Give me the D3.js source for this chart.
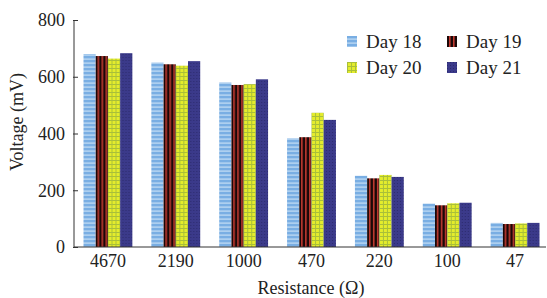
<!DOCTYPE html>
<html>
<head>
<meta charset="utf-8">
<script src="https://cdn.jsdelivr.net/npm/d3@7"></script>
<style>
  body { margin: 0; background: #fff; }
  svg text { font-family: "Liberation Serif", "DejaVu Serif", serif !important; fill: #222; }
</style>
</head>
<body>
<svg id="chart"></svg>
<script>
const resistances = ["4670", "2190", "1000", "470", "220", "100", "47"];
const seriesNames = ["Day 18", "Day 19", "Day 20", "Day 21"];
const day18 = [680, 650, 580, 383, 251, 153, 85];
const day19 = [673, 644, 571, 387, 242, 147, 81];
const day20 = [664, 639, 574, 473, 254, 154, 83];
const day21 = [683, 655, 591, 448, 247, 156, 85];
const yTicks = [0, 200, 400, 600, 800];

const series = [day18, day19, day20, day21];
const w = 547;
const h = 298;
const mLeft = 74, mRight = 549, mTop = 20, mBottom = 247;

const svg = d3.select("#chart").attr("width", w).attr("height", h);
const defs = svg.append("defs");

// fills for each series
const p18 = defs.append("pattern").attr("id", "p0").attr("patternUnits", "userSpaceOnUse")
  .attr("width", 4).attr("height", 4);
p18.append("rect").attr("width", 4).attr("height", 4).attr("fill", "#79aee3");
p18.append("rect").attr("y", 2.5).attr("width", 4).attr("height", 1.2).attr("fill", "#c4def5");

const p19 = defs.append("pattern").attr("id", "p1").attr("patternUnits", "userSpaceOnUse")
  .attr("width", 4).attr("height", 4);
p19.append("rect").attr("width", 4).attr("height", 4).attr("fill", "#1a0808");
p19.append("rect").attr("x", 2).attr("width", 1.6).attr("height", 4).attr("fill", "#c23a30");

const p20 = defs.append("pattern").attr("id", "p2").attr("patternUnits", "userSpaceOnUse")
  .attr("width", 4).attr("height", 4);
p20.append("rect").attr("width", 4).attr("height", 4).attr("fill", "#e4ec2c");
p20.append("rect").attr("width", 4).attr("height", 1).attr("fill", "#a9bf3a");
p20.append("rect").attr("width", 1).attr("height", 4).attr("fill", "#a9bf3a");

const p21 = defs.append("pattern").attr("id", "p3").attr("patternUnits", "userSpaceOnUse")
  .attr("width", 3).attr("height", 3);
p21.append("rect").attr("width", 3).attr("height", 3).attr("fill", "#3b3a8a");
p21.append("rect").attr("width", 1).attr("height", 1).attr("fill", "#2c2b6e");

const x0 = d3.scaleBand().domain(resistances).range([mLeft, mRight])
  .paddingInner(0.28).paddingOuter(0.14);
const x1 = d3.scaleBand().domain(d3.range(seriesNames.length)).range([0, x0.bandwidth()]);
const yScale = d3.scaleLinear().domain([0, 800]).range([mBottom, mTop]);

const groups = svg.selectAll("g.grp")
  .data(resistances)
  .enter()
  .append("g")
  .attr("class", "grp")
  .attr("transform", d => `translate(${x0(d)},0)`);

groups.selectAll("rect")
  .data((d, i) => series.map((s, j) => ({ j: j, v: s[i] })))
  .enter()
  .append("rect")
  .attr("x", d => x1(d.j))
  .attr("y", d => yScale(d.v))
  .attr("width", x1.bandwidth())
  .attr("height", d => mBottom - yScale(d.v))
  .attr("fill", d => `url(#p${d.j})`);

// axes
svg.append("g")
  .attr("transform", `translate(${mLeft},0)`)
  .call(d3.axisLeft(yScale).tickValues(yTicks).tickSize(4).tickPadding(5).tickFormat(d3.format("d")))
  .call(g => g.select(".domain").attr("stroke", "#333").attr("d", `M0,${mTop}V${mBottom}`))
  .call(g => g.selectAll(".tick line").attr("stroke", "#333").attr("x1", 4).attr("x2", -1))
  .call(g => g.selectAll("text").attr("font-size", 18));

svg.append("g")
  .attr("transform", `translate(0,${mBottom})`)
  .call(d3.axisBottom(x0).tickSize(0).tickPadding(7))
  .call(g => g.select(".domain").attr("stroke", "#333").attr("d", `M${mLeft},0H${w - 1}`))
  .call(g => g.selectAll("text").attr("font-size", 18));

svg.append("text")
  .attr("x", 311)
  .attr("y", 294)
  .attr("text-anchor", "middle")
  .attr("font-size", 18)
  .text("Resistance (Ω)");

svg.append("text")
  .attr("transform", "translate(23,122) rotate(-90)")
  .attr("text-anchor", "middle")
  .attr("font-size", 18)
  .text("Voltage (mV)");

// legend
const legend = svg.selectAll("g.leg")
  .data(seriesNames)
  .enter()
  .append("g")
  .attr("class", "leg")
  .attr("transform", (d, i) => `translate(${347 + (i % 2) * 100},${36 + Math.floor(i / 2) * 26})`);

legend.append("rect")
  .attr("width", 10)
  .attr("height", 11)
  .attr("fill", (d, i) => `url(#p${i})`);

legend.append("text")
  .attr("x", 19)
  .attr("y", 12)
  .attr("font-size", 19)
  .text(d => d);
</script>
</body>
</html>
